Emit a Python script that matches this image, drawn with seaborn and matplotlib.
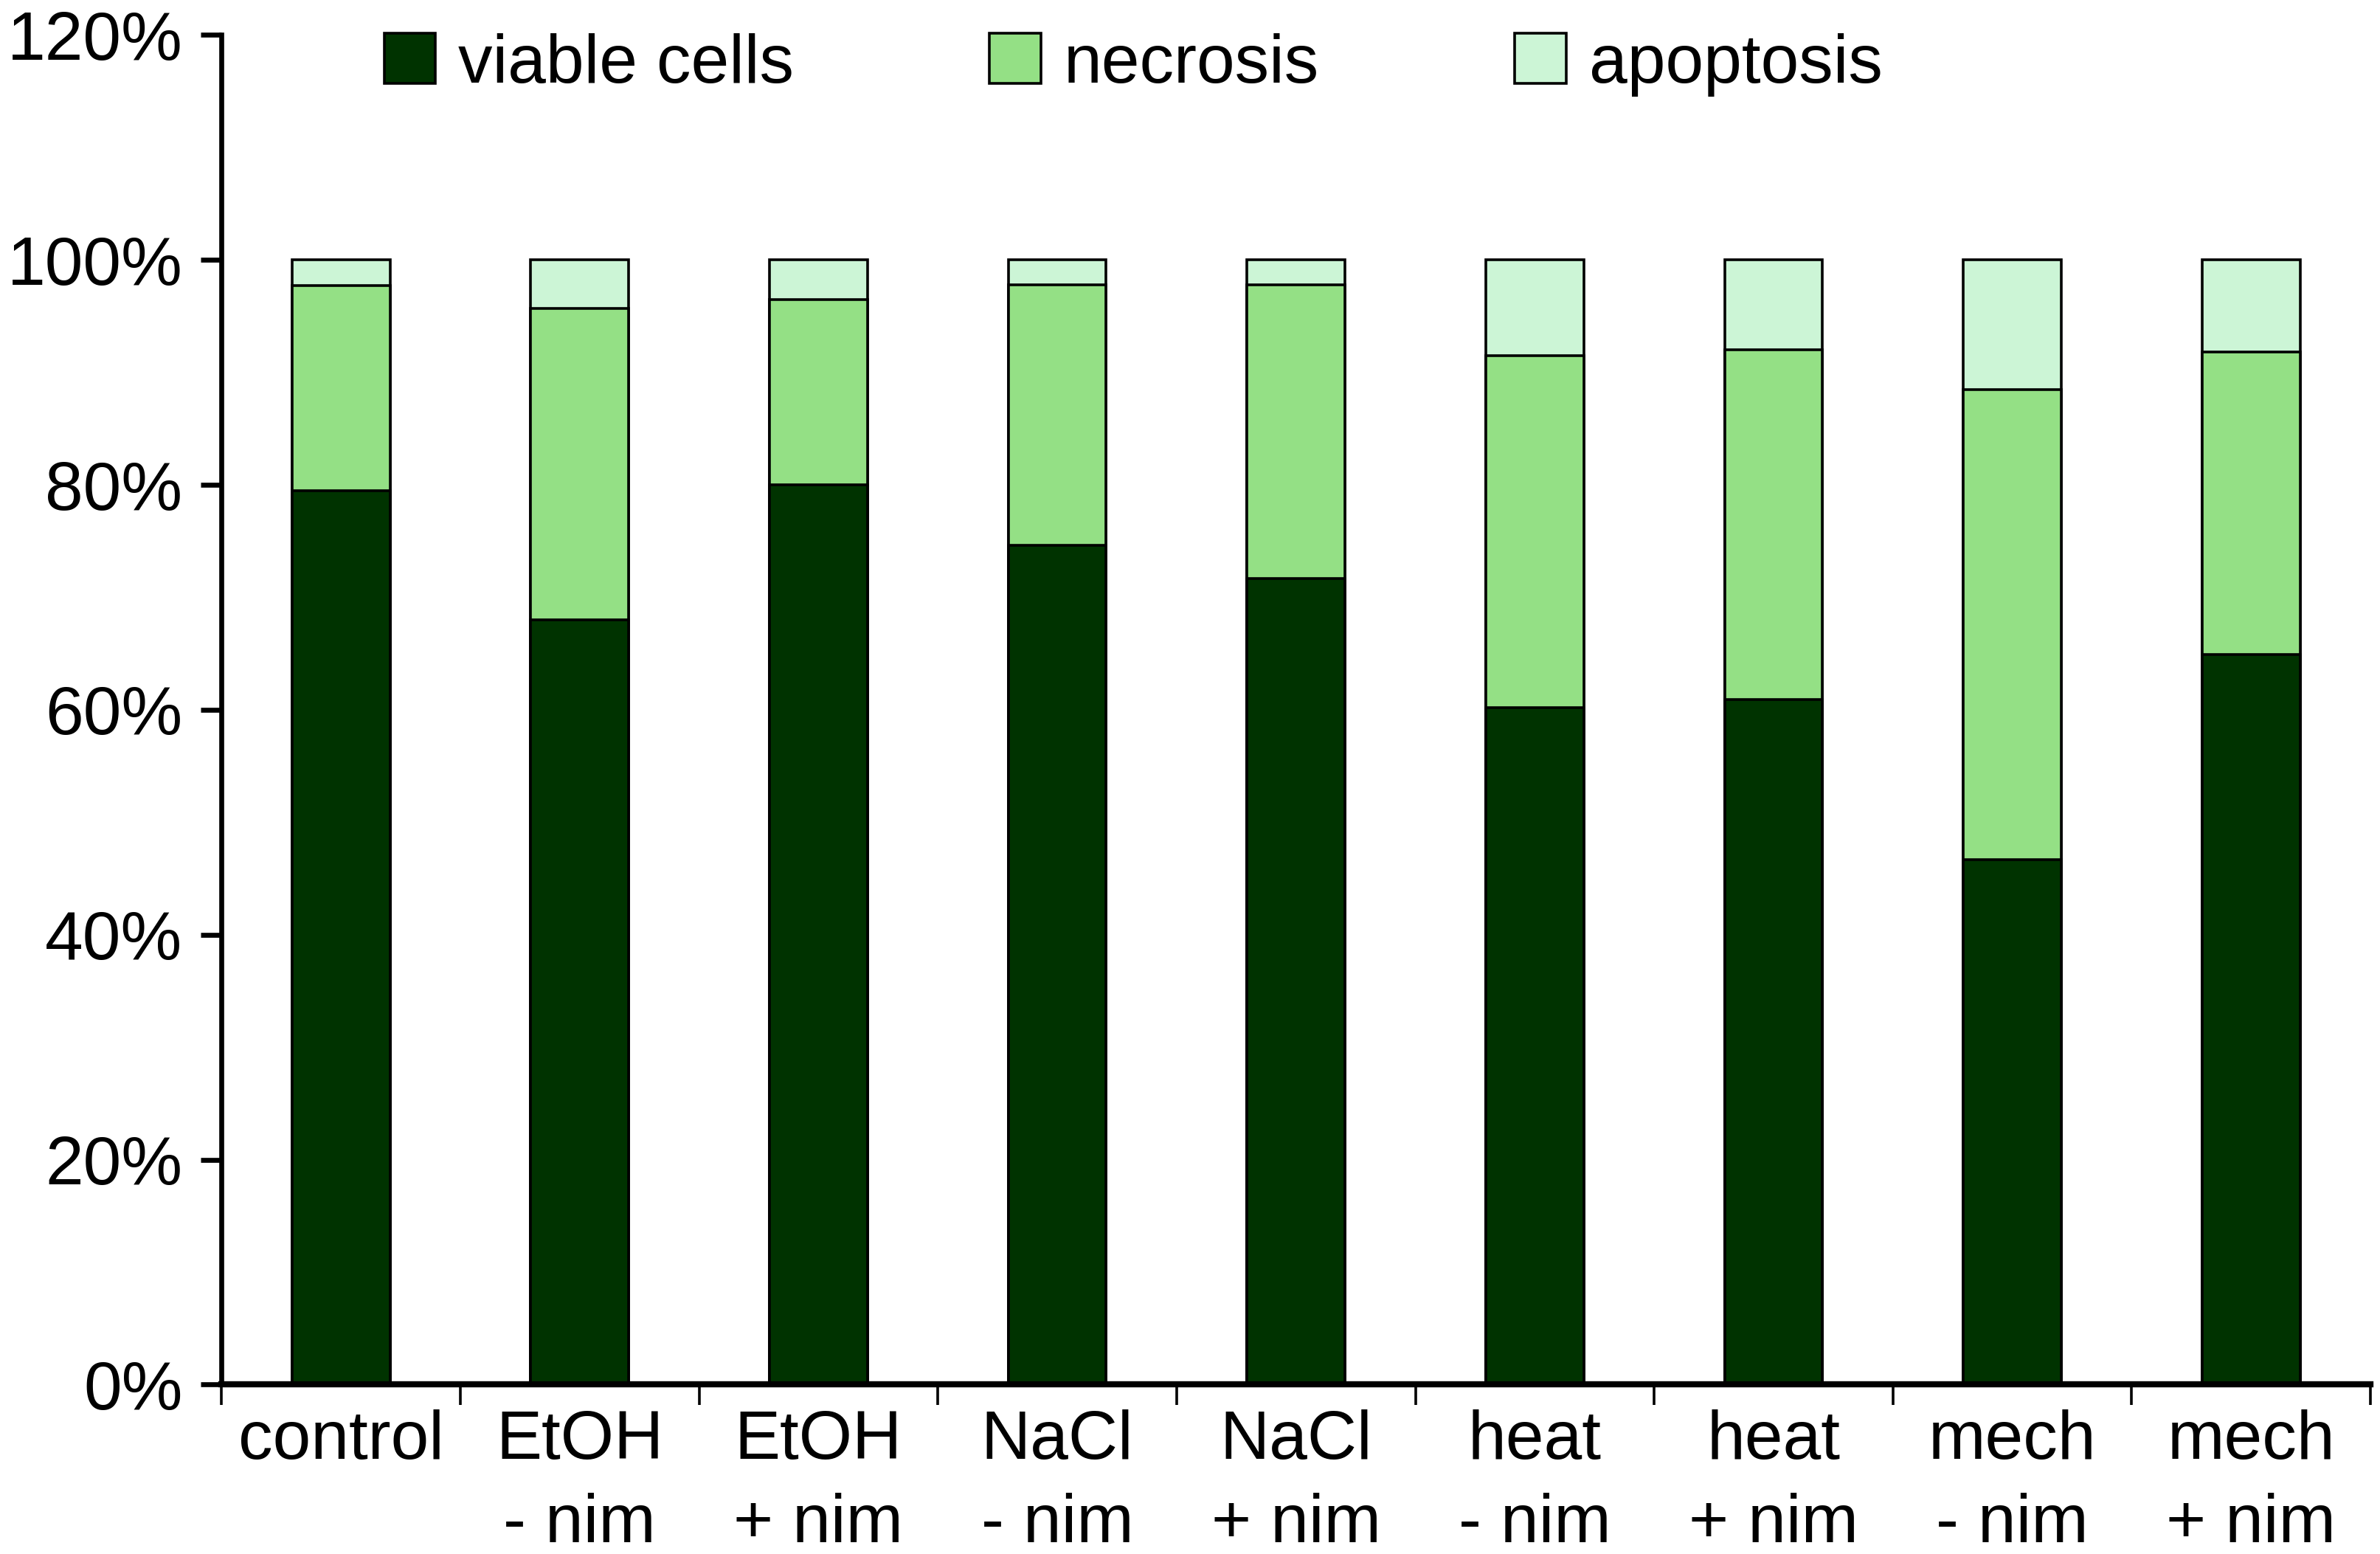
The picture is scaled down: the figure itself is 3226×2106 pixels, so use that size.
import matplotlib

matplotlib.use('Agg')
import matplotlib.pyplot as plt
import seaborn as sns
import numpy as np
import pandas as pd
from matplotlib.patches import Patch
from matplotlib.ticker import FixedLocator, PercentFormatter

groups = ['control', 'EtOH\n- nim', 'EtOH\n+ nim', 'NaCl\n- nim', 'NaCl\n+ nim',
          'heat\n- nim', 'heat\n+ nim', 'mech\n- nim', 'mech\n+ nim']
viable = [79.5, 68.0, 80.0, 74.6, 71.7, 60.2, 60.9, 46.7, 64.9]
necrosis = [18.2, 27.7, 16.5, 23.2, 26.1, 31.3, 31.1, 41.8, 26.9]
apoptosis = [2.3, 4.3, 3.5, 2.2, 2.2, 8.5, 8.0, 11.5, 8.2]

series = ['viable cells', 'necrosis', 'apoptosis']
colors = ['#003300', '#94E085', '#CCF5D6']

sns.set_style('white')
plt.rcParams['font.family'] = ['Liberation Sans', 'DejaVu Sans']
plt.rcParams['text.color'] = 'black'
plt.rcParams['xtick.color'] = 'black'
plt.rcParams['ytick.color'] = 'black'

df = pd.DataFrame({'group': groups, 'viable': viable,
                   'necrosis': necrosis, 'apoptosis': apoptosis})
df['top1'] = df['viable']
df['top2'] = df['viable'] + df['necrosis']
df['top3'] = df['top2'] + df['apoptosis']

fig = plt.figure(figsize=(16.13, 10.53), dpi=200)
ax = fig.add_axes([0.0931, 0.109, 0.9029, 0.8685])

# draw cumulative layers, tallest first
for col, c in zip(['top3', 'top2', 'top1'], colors[::-1]):
    sns.barplot(data=df, x='group', y=col, color=c, width=0.41, saturation=1,
                edgecolor='black', linewidth=1.3, ax=ax)

ax.set_xlim(-0.5, len(groups) - 0.5)
ax.set_ylim(0, 120)
ax.set_xlabel('')
ax.set_ylabel('')

ax.yaxis.set_major_locator(FixedLocator(np.arange(0, 121, 20)))
ax.yaxis.set_major_formatter(PercentFormatter(decimals=0))
ax.tick_params(axis='y', which='major', direction='out', left=True,
               length=10, width=2.4, pad=9, labelsize=33.5, labelcolor='black')

ax.xaxis.set_minor_locator(FixedLocator(np.arange(-0.5, len(groups), 1)))
ax.tick_params(axis='x', which='major', length=0, pad=12, labelsize=33.5,
               labelcolor='black')
ax.tick_params(axis='x', which='minor', bottom=True, direction='out',
               length=10, width=1.3)
for t in ax.get_xticklabels():
    t.set_linespacing(1.4)

for s in ['top', 'right']:
    ax.spines[s].set_visible(False)
ax.spines['left'].set_linewidth(2.4)
ax.spines['bottom'].set_linewidth(3)
ax.spines['left'].set_color('black')
ax.spines['bottom'].set_color('black')

handles = [Patch(facecolor=c, edgecolor='black', linewidth=1.3, label=s)
           for s, c in zip(series, colors)]
ax.legend(handles=handles, ncol=3, frameon=False, loc='center left',
          bbox_to_anchor=(0.0756, 0.978), borderaxespad=0, borderpad=0,
          handlelength=0.75, handleheight=0.75, handletextpad=0.33,
          columnspacing=2.85, fontsize=33.5)

fig.savefig('out.png', dpi=200)
